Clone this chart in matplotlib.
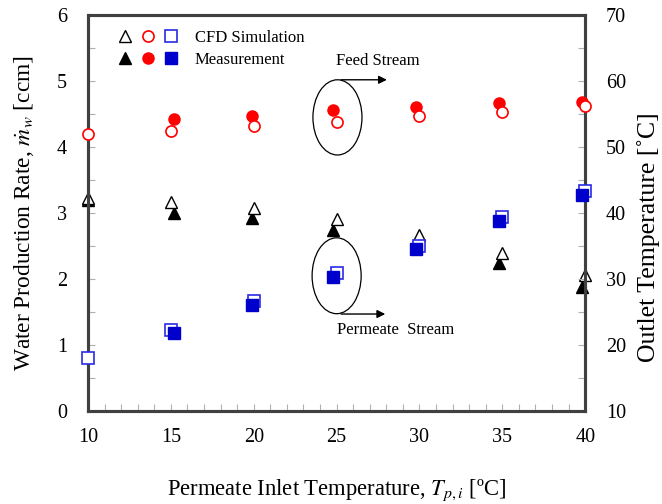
import numpy as np
import matplotlib
matplotlib.use('Agg')
import matplotlib.pyplot as plt
from matplotlib.patches import Ellipse
from matplotlib.legend_handler import HandlerTuple

plt.rcParams['font.family'] = ['Liberation Serif', 'DejaVu Serif']
plt.rcParams['mathtext.fontset'] = 'stix'

# permeate inlet temperature [C]
x_cfd = [10, 15, 20, 25, 30, 35, 40]
x_meas = [10, 15.2, 19.9, 24.8, 29.8, 34.8, 39.8]

# water production rate [ccm] (left axis)
rate_cfd = [3.23, 3.17, 3.08, 2.91, 2.67, 2.39, 2.06]
rate_meas = [3.20, 3.00, 2.92, 2.74, 2.47, 2.24, 1.88]

# outlet temperatures [C] (right axis)
feed_cfd = [52.0, 52.4, 53.2, 53.8, 54.7, 55.3, 56.2]
feed_meas = [np.nan, 54.2, 54.7, 55.6, 56.1, 56.7, 56.9]
perm_cfd = [18.0, 22.3, 26.7, 30.9, 35.0, 39.4, 43.3]
perm_meas = [np.nan, 21.8, 26.1, 30.3, 34.5, 38.8, 42.7]

spine_col = '#404040'
red = '#ff0000'
blue_open = '#2a2ae6'
blue_fill = '#0000cc'

fig = plt.figure(figsize=(6.62, 5.04), dpi=100)
ax = fig.add_axes([0.133, 0.1845, 0.751, 0.7855])
ax2 = ax.twinx()

t_open, = ax.plot(x_cfd, rate_cfd, ls='none', marker='^', ms=9, mfc='white',
                  mec='black', mew=1, clip_on=False, zorder=4)
t_fill, = ax.plot(x_meas, rate_meas, ls='none', marker='^', ms=9, mfc='black',
                  mec='black', clip_on=False, zorder=3)

c_fill, = ax2.plot(x_meas, feed_meas, ls='none', marker='o', ms=8, mfc=red,
                   mec=red, clip_on=False, zorder=3)
c_open, = ax2.plot(x_cfd, feed_cfd, ls='none', marker='o', ms=8, mfc='white',
                   mec=red, mew=1.2, clip_on=False, zorder=4)
s_open, = ax2.plot(x_cfd, perm_cfd, ls='none', marker='s', ms=8, mfc='white',
                   mec=blue_open, mew=1.2, clip_on=False, zorder=3)
s_fill, = ax2.plot(x_meas, perm_meas, ls='none', marker='s', ms=8, mfc=blue_fill,
                   mec=blue_fill, clip_on=False, zorder=4)

ax.set_xlim(10, 40)
ax.set_ylim(0, 6)
ax2.set_ylim(10, 70)
ax.set_xticks(range(10, 41, 5))
ax.set_xticks(range(10, 41), minor=True)
ax.set_yticks(range(0, 7))
ax.set_yticks(np.arange(0, 6.01, 0.5), minor=True)
ax2.set_yticks(range(10, 71, 10))
ax2.set_yticks(range(10, 71, 5), minor=True)

for a in (ax, ax2):
    for s in a.spines.values():
        s.set_linewidth(2.2)
        s.set_color(spine_col)
    a.tick_params(which='both', direction='in', color='#b0b0b0', labelsize=14.5)
    a.tick_params(which='major', length=5, width=0.8)
    a.tick_params(which='minor', length=5, width=0.8)
ax.tick_params(axis='y', pad=15)
ax.tick_params(axis='x', pad=12)
ax2.tick_params(axis='y', pad=15)

ax.set_xlabel('Permeate Inlet Temperature, $T_{p,i}$ [ºC]', fontsize=16.3, labelpad=22)
ax.set_ylabel(r'Water Production Rate, $\dot{m}_w$ [ccm]', fontsize=16.8, labelpad=15)
ax2.set_ylabel('Outlet Temperature [˚C]', fontsize=18.5)
ax2.yaxis.set_label_coords(1.127, 0.44)
ax2.yaxis.label.set_va('center')

# annotations
ax.add_patch(Ellipse((25.05, 4.45), 2.96, 1.14, fill=False, ec='black', lw=0.9, zorder=5))
ax.add_patch(Ellipse((25.0, 2.05), 2.96, 1.15, fill=False, ec='black', lw=0.9, zorder=5))
ax.annotate('', xy=(28.2, 5.02), xytext=(25.1, 5.02),
            arrowprops=dict(arrowstyle='-|>', color='black', lw=1, mutation_scale=12))
ax.annotate('', xy=(28.1, 1.47), xytext=(25.1, 1.47),
            arrowprops=dict(arrowstyle='-|>', color='black', lw=1, mutation_scale=12))
ax.text(24.97, 5.30, 'Feed Stream', fontsize=12, va='center', ha='left')
ax.text(25.03, 1.23, 'Permeate  Stream', fontsize=12, va='center', ha='left')

leg = ax2.legend([(t_open, c_open, s_open), (t_fill, c_fill, s_fill)],
                 ['CFD Simulation', 'Measurement'],
                 handler_map={tuple: HandlerTuple(ndivide=None, pad=0.6)},
                 loc='upper left', bbox_to_anchor=(0.03, 1.0), frameon=False,
                 fontsize=12, handlelength=3.6, handletextpad=1.0,
                 labelspacing=0.35)

fig.savefig('out.png', dpi=100)
